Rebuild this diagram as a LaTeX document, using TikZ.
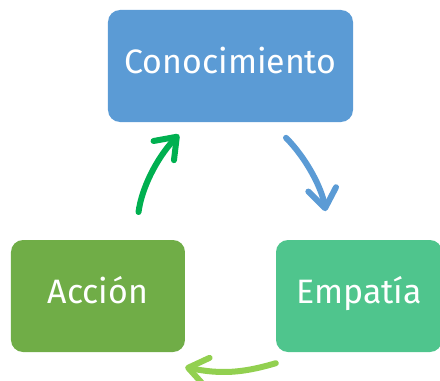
\documentclass[tikz,border=0pt]{standalone}
\usepackage{fontspec}
\setmainfont{Fira Sans}
\usetikzlibrary{arrows.meta,positioning,calc}
\definecolor{conocblue}{HTML}{5B9BD5}
\definecolor{accgreen}{HTML}{70AD47}
\definecolor{empgreen}{HTML}{4FC58D}
\definecolor{pilgreen}{HTML}{00B050}
\definecolor{pillime}{HTML}{92D050}
\tikzset{
    state/.style={
           rectangle,
           rounded corners=12bp,
           minimum height=112bp,
           inner sep=0pt,
           text height=24bp,
           text depth=10bp,
           text=white,
           font=\fontsize{34}{40}\selectfont,
           text centered,
           },
    pil/.style={
           -{Straight Barb[round,length=19bp,width=28bp]},
           line width=6bp,
           line cap=round,}
}

\begin{document}
\begin{tikzpicture}
\useasboundingbox (-230.5bp,-315bp) rectangle (209.5bp,66bp);
% Position of Conocimiento (CONOC)
\node[state,
fill = conocblue,
minimum width = 245bp] (CONOC)
{Conocimiento};
% Position of Accion (ACCION)
\node[state,
fill = accgreen,
minimum width = 174bp,
below of = CONOC,
node distance = 230bp,
xshift = -132.5bp] (ACCION)
{Acción};
% Position of Empatia (EMPATIA)
\node[state,
fill = empgreen,
minimum width = 166bp,
right of = ACCION,
node distance = 261bp] (EMPATIA)
{Empatía};
% Draw lines on graph
\path ([xshift=37bp]ACCION.north) edge[pil, draw=pilgreen, bend left = 18, shorten <=28bp, shorten >=17bp] ([xshift=-40bp]CONOC.south);
\path ([xshift=40bp]CONOC.south) edge[pil, draw=conocblue, bend left = 18, shorten <=22bp, shorten >=29bp] ([xshift=-29bp]EMPATIA.north);
\path ([yshift=-11bp]EMPATIA.south west) edge[pil, draw=pillime, bend left = 14] ([yshift=-15bp]ACCION.south east);
\end{tikzpicture}
\end{document}
